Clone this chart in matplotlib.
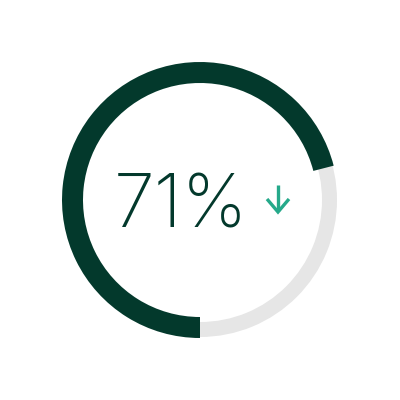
import matplotlib
matplotlib.use("Agg")
import matplotlib.pyplot as plt

# gauge data
value = 71
total = 100
label = "71%"
trend = "down"

dark = "#03392c"
teal = "#25a98a"
track = "#e6e6e6"

fig = plt.figure(figsize=(4, 4), dpi=100)
ax = fig.add_axes([0, 0, 1, 1])

# background track (thinner, full ring)
ax.pie([total], radius=137, colors=[track], startangle=270,
       wedgeprops={"width": 15, "linewidth": 0})

# filled part, clockwise from the bottom
ax.pie([value, total - value], radius=138, colors=[dark, "none"],
       startangle=270, counterclock=False,
       wedgeprops={"width": 21, "linewidth": 0})

ax.text(-19, -28, label, ha="center", va="baseline", fontsize=53,
        color=dark, family="Inter", fontweight="light")

# trend arrow
if trend == "down":
    ax.plot([78, 78], [15, -11], color=teal, lw=2.4, solid_capstyle="butt")
    ax.plot([67, 78, 89], [1, -12, 1], color=teal, lw=2.4,
            solid_joinstyle="miter", solid_capstyle="butt")

ax.set_xlim(-200, 200)
ax.set_ylim(-200, 200)
ax.set_aspect("equal")
ax.axis("off")

fig.savefig("out.png", dpi=100, facecolor="white")
